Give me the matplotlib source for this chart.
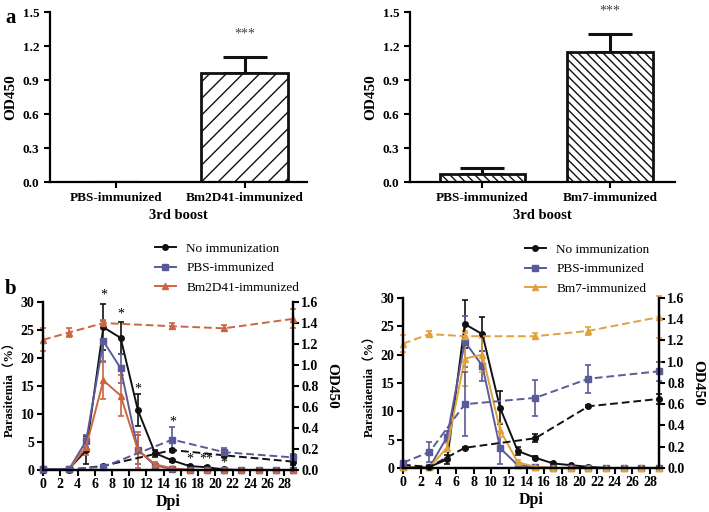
import numpy as np
import matplotlib.pyplot as plt

plt.rcParams['font.family'] = ['Liberation Serif', 'Noto Sans CJK SC']
plt.rcParams['hatch.linewidth'] = 1.0

# ---- panel a: OD450 after 3rd boost
cats_a1 = ['PBS-immunized', 'Bm2D41-immunized']
od_a1 = [0.0, 0.96]
od_a1_err = [0.0, 0.14]
cats_a2 = ['PBS-immunized', 'Bm7-immunized']
od_a2 = [0.07, 1.15]
od_a2_err = [0.05, 0.16]

# ---- panel b: parasitemia (solid, left axis) and OD450 (dashed, right axis)
days = [0, 3, 5, 7, 9, 11, 13, 15, 17, 19, 21, 23, 25, 27, 29]
od_days = [0, 3, 7, 15, 21, 29]

noimm_L = [0.1, 0.2, 3.5, 25.5, 23.6, 10.7, 3.0, 1.7, 0.7, 0.5, 0.1, 0, 0, 0, 0]
noimm_L_err = [0.1, 0.1, 2.5, 4.1, 2.9, 2.8, 0.6, 0.3, 0.2, 0.2, 0.1, 0, 0, 0, 0]
pbs_L = [0.1, 0.1, 5.2, 23.0, 18.2, 3.6, 0.8, 0.2, 0, 0, 0, 0, 0, 0, 0]
pbs_L_err = [0.1, 0.1, 1.0, 3.7, 2.6, 2.6, 0.5, 0.2, 0, 0, 0, 0, 0, 0, 0]
bm2_L = [0.0, 0.1, 4.2, 16.0, 13.3, 3.6, 1.0, 0.3, 0, 0, 0, 0, 0, 0, 0]
bm2_L_err = [0.0, 0.1, 1.5, 3.4, 3.7, 3.2, 0.5, 0.3, 0, 0, 0, 0, 0, 0, 0]

od_noimm_L = [0.0, 0.0, 0.04, 0.19, 0.14, 0.08]
od_noimm_L_err = [0.005, 0.005, 0.01, 0.01, 0.02, 0.03]
od_pbs_L = [0.01, 0.01, 0.03, 0.29, 0.17, 0.12]
od_pbs_L_err = [0.005, 0.005, 0.01, 0.12, 0.04, 0.03]
od_bm2_L = [1.24, 1.31, 1.40, 1.37, 1.35, 1.44]
od_bm2_L_err = [0.11, 0.04, 0.03, 0.03, 0.03, 0.09]

noimm_R = [0.1, 0.2, 1.5, 25.4, 23.6, 10.6, 3.0, 1.8, 0.8, 0.5, 0.2, 0, 0, 0, 0]
noimm_R_err = [0.1, 0.1, 0.8, 4.2, 3.0, 2.9, 0.7, 0.3, 0.2, 0.1, 0.1, 0, 0, 0, 0]
pbs_R = [0.1, 0.1, 5.5, 22.3, 18.0, 3.5, 0.5, 0.2, 0, 0, 0, 0, 0, 0, 0]
pbs_R_err = [0.1, 0.1, 1.0, 4.5, 2.7, 2.8, 0.3, 0.1, 0, 0, 0, 0, 0, 0, 0]
bm7_R = [0.1, 0.1, 3.6, 19.3, 20.0, 6.7, 1.0, 0.2, 0, 0, 0, 0, 0, 0, 0]
bm7_R_err = [0.1, 0.1, 0.8, 4.8, 3.0, 1.2, 0.4, 0.1, 0, 0, 0, 0, 0, 0, 0]

od_noimm_R = [0.03, 0.01, 0.19, 0.28, 0.58, 0.65]
od_noimm_R_err = [0.005, 0.01, 0.01, 0.04, 0.01, 0.05]
od_pbs_R = [0.05, 0.15, 0.60, 0.66, 0.84, 0.91]
od_pbs_R_err = [0.01, 0.09, 0.30, 0.17, 0.13, 0.09]
od_bm7_R = [1.17, 1.26, 1.24, 1.24, 1.29, 1.42]
od_bm7_R_err = [0.08, 0.03, 0.03, 0.03, 0.04, 0.20]

star_x = [7, 9, 11, 15, 17, 19, 21]
star_y = [31.3, 27.8, 14.5, 8.5, 2.0, 2.0, 1.3]
star_txt = ['*', '*', '*', '*', '*', '**', '*']

BLACK = '#111111'
BLUE = '#5a5a98'
RED = '#cc6640'
GOLD = '#e0a23c'

fig = plt.figure(figsize=(7.09, 5.12), dpi=100)


def bar_panel(rect, cats, vals, errs, hatch, xlim):
    ax = fig.add_axes(rect)
    x = np.arange(len(cats))
    ax.bar(x, vals, width=0.67, color='white', edgecolor='#111111',
           linewidth=2.0, hatch=hatch, zorder=2)
    ax.errorbar(x, vals, yerr=[np.zeros(len(vals)), errs], fmt='none',
                ecolor='#111111', elinewidth=2.2, capsize=16, capthick=2.2, zorder=1)
    ax.set_xlim(*xlim)
    ax.set_ylim(0, 1.5)
    ax.set_yticks(np.arange(0, 1.51, 0.3))
    ax.set_yticklabels([f'{v:.1f}' for v in np.arange(0, 1.51, 0.3)])
    ax.set_xticks(x)
    ax.set_xticklabels(cats)
    for s in ['top', 'right']:
        ax.spines[s].set_visible(False)
    for s in ['left', 'bottom']:
        ax.spines[s].set_linewidth(1.6)
    ax.tick_params(width=1.5, length=4, labelsize=9.5)
    for lab in ax.get_xticklabels() + ax.get_yticklabels():
        lab.set_fontweight('bold')
    ax.set_ylabel('OD450', fontsize=11, fontweight='bold', labelpad=4)
    ax.set_xlabel('3rd boost', fontsize=10.5, fontweight='bold', labelpad=3)
    return ax


ax1 = bar_panel([0.0705, 0.6445, 0.3625, 0.332], cats_a1, od_a1, od_a1_err, '//', (-0.514, 1.486))
ax1.text(1, 1.31, '***', ha='center', va='center', fontsize=10, color='#444444')
ax2 = bar_panel([0.578, 0.6445, 0.374, 0.332], cats_a2, od_a2, od_a2_err, '\\\\\\\\', (-0.57, 1.51))
ax2.text(1, 1.51, '***', ha='center', va='center', fontsize=10, color='#444444')


def line_panel(rect, series, od_series, ylabel, legend_pos):
    ax = fig.add_axes(rect)
    axr = ax.twinx()
    handles = []
    for vals, err, color, marker, label in series:
        h = ax.errorbar(days, vals, yerr=err, color=color, marker=marker, markersize=4,
                        linewidth=1.4, elinewidth=1.2, capsize=2.5, capthick=1.2,
                        clip_on=False, label=label)
        for art in h.lines[1] + h.lines[2]:
            art.set_clip_on(False)
        handles.append(h.lines[0])
    for vals, err, color, marker in od_series:
        h = axr.errorbar(od_days, vals, yerr=err, color=color, marker=marker, markersize=4,
                         linewidth=1.4, elinewidth=1.2, capsize=2.5, capthick=1.2,
                         linestyle=(0, (4, 2)), clip_on=False)
        for art in h.lines[1] + h.lines[2]:
            art.set_clip_on(False)
    ax.set_xlim(0, 29)
    ax.set_ylim(0, 30)
    axr.set_ylim(0, 1.6)
    ax.set_xticks(range(0, 29, 2))
    ax.set_yticks(range(0, 31, 5))
    axr.set_yticks(np.arange(0, 1.61, 0.2))
    axr.set_yticklabels([f'{v:.1f}' for v in np.arange(0, 1.61, 0.2)])
    for a in (ax, axr):
        a.spines['top'].set_visible(False)
        for s in ['left', 'bottom', 'right']:
            a.spines[s].set_linewidth(1.6)
        a.tick_params(width=1.5, length=4, labelsize=10, pad=2)
        for lab in a.get_xticklabels() + a.get_yticklabels():
            lab.set_fontweight('bold')
    ax.set_xlabel('Dpi', fontsize=11.5, fontweight='bold', labelpad=2)
    ax.set_ylabel(ylabel, fontsize=9, fontweight='bold', labelpad=3)
    axr.set_ylabel('OD450', fontsize=11, fontweight='bold', rotation=270, labelpad=14)
    ax.legend(handles=handles, labels=[s[4] for s in series], loc='upper left',
              bbox_to_anchor=legend_pos, bbox_transform=fig.transFigure, frameon=False,
              fontsize=9.5, handlelength=1.6, handletextpad=0.8, labelspacing=0.55,
              borderpad=0)
    return ax, axr


bl, blr = line_panel([0.0607, 0.082, 0.3526, 0.328],
                     [(noimm_L, noimm_L_err, BLACK, 'o', 'No immunization'),
                      (pbs_L, pbs_L_err, BLUE, 's', 'PBS-immunized'),
                      (bm2_L, bm2_L_err, RED, '^', 'Bm2D41-immunized')],
                     [(od_noimm_L, od_noimm_L_err, BLACK, 'o'),
                      (od_pbs_L, od_pbs_L_err, BLUE, 's'),
                      (od_bm2_L, od_bm2_L_err, RED, '^')],
                     'Parasitemia（%）', (148 / 709, 1 - 236 / 512))
for x, y, t in zip(star_x, star_y, star_txt):
    bl.text(x, y, t, ha='center', va='center', fontsize=10, clip_on=False)

br, brr = line_panel([0.5684, 0.086, 0.361, 0.332],
                     [(noimm_R, noimm_R_err, BLACK, 'o', 'No immunization'),
                      (pbs_R, pbs_R_err, BLUE, 's', 'PBS-immunized'),
                      (bm7_R, bm7_R_err, GOLD, '^', 'Bm7-immunized')],
                     [(od_noimm_R, od_noimm_R_err, BLACK, 'o'),
                      (od_pbs_R, od_pbs_R_err, BLUE, 's'),
                      (od_bm7_R, od_bm7_R_err, GOLD, '^')],
                     'Parasitaemia（%）', (518 / 709, 1 - 237 / 512))

fig.text(0.007, 0.985, 'a', fontsize=15, fontweight='bold', va='top')
fig.text(0.007, 0.455, 'b', fontsize=15, fontweight='bold', va='top')

fig.savefig('out.png', dpi=100)
